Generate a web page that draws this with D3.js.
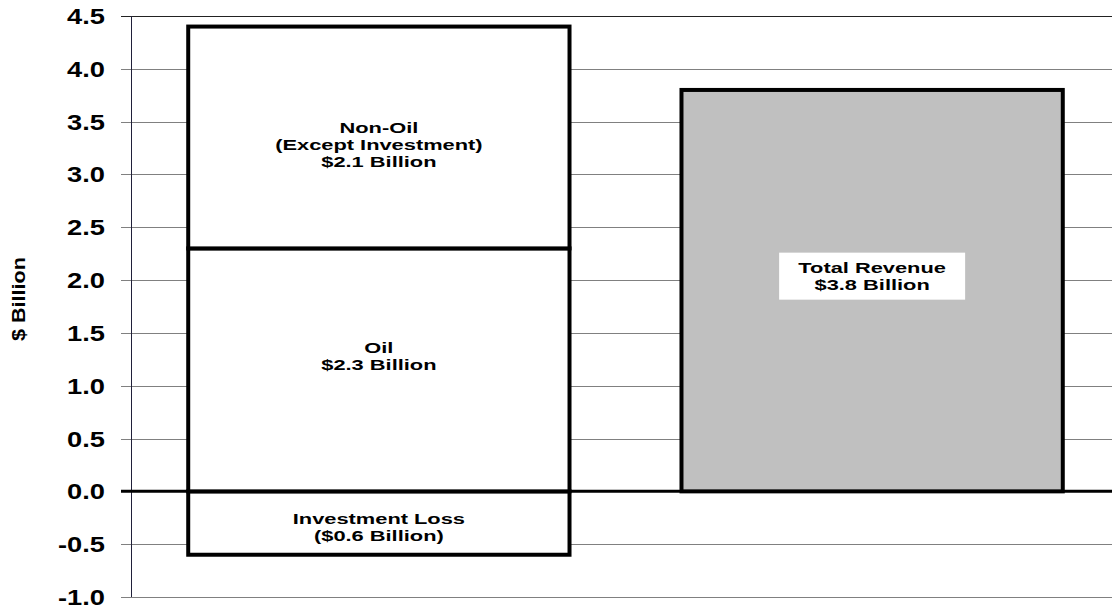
<!DOCTYPE html>
<html>
<head>
<meta charset="utf-8">
<script src="https://cdn.jsdelivr.net/npm/d3@7"></script>
<style>
  body { margin: 0; background: #fff; }
  text { font-family: "Liberation Sans", Arial, sans-serif; font-weight: bold; fill: #000; }
</style>
</head>
<body>
<div id="graphic"></div>
<script>
// categories on the x axis
var categories = ["Components", "Total"];

// stacked pieces of the first bar, $ billion
var segNames  = ["Investment Loss", "Oil", "Non-Oil"];
var segValues = [-0.6, 2.3, 2.1];
var segLabels = [
    ["Investment Loss", "($0.6 Billion)"],
    ["Oil", "$2.3 Billion"],
    ["Non-Oil", "(Except Investment)", "$2.1 Billion"]
];

// total bar
var totalValue = 3.8;
var totalLabel = ["Total Revenue", "$3.8 Billion"];

var yTicks = [-1.0, -0.5, 0.0, 0.5, 1.0, 1.5, 2.0, 2.5, 3.0, 3.5, 4.0, 4.5];

var w = 1112, h = 611;

var svg = d3.select("#graphic")
    .append("svg")
    .attr("width", w)
    .attr("height", h);

var yScale = d3.scaleLinear()
    .domain([-1, 4.5])
    .range([597, 16]);

var xScale = d3.scaleBand()
    .domain(categories)
    .range([131, 1120])
    .paddingInner(0.227)
    .paddingOuter(0.116);

// gridlines (ticks run a bit left of the axis)
svg.append("g")
   .selectAll("line")
   .data(yTicks)
   .enter()
   .append("line")
   .attr("x1", 121)
   .attr("x2", w)
   .attr("y1", function(d){ return Math.round(yScale(d)) + 0.5; })
   .attr("y2", function(d){ return Math.round(yScale(d)) + 0.5; })
   .attr("stroke", function(d){ return d == 4.5 ? "#222" : "#808080"; })
   .attr("stroke-width", 1);

// y axis line
svg.append("line")
   .attr("x1", 131.5).attr("x2", 131.5)
   .attr("y1", yScale(4.5)).attr("y2", yScale(-1))
   .attr("stroke", "#20203a")
   .attr("stroke-width", 1);

// zero line
svg.append("line")
   .attr("x1", 121).attr("x2", w)
   .attr("y1", yScale(0)).attr("y2", yScale(0))
   .attr("stroke", "#000")
   .attr("stroke-width", 3);

// tick labels, a wide bold face
svg.append("g")
   .selectAll("g")
   .data(yTicks)
   .enter()
   .append("g")
   .attr("transform", function(d){ return "translate(105," + (yScale(d) + 8) + ") scale(1.24,1)"; })
   .append("text")
   .attr("text-anchor", "end")
   .style("font-size", "22px")
   .text(function(d){ return d.toFixed(1); });

// y axis title
svg.append("g")
   .attr("transform", "translate(25,299) rotate(-90) scale(1.2,1)")
   .append("text")
   .attr("text-anchor", "middle")
   .style("font-size", "18px")
   .text("$ Billion");

// stacked segments of first bar
var segs = [];
var cum = 0;
for(let i=0; i < segValues.length; i++){
    if(segValues[i] < 0){
        segs.push({ name: segNames[i], y0: segValues[i], y1: 0, label: segLabels[i] });
    } else {
        segs.push({ name: segNames[i], y0: cum, y1: cum + segValues[i], label: segLabels[i] });
        cum += segValues[i];
    }
}

var x0 = xScale(categories[0]), bw = xScale.bandwidth();

svg.selectAll("rect.seg")
   .data(segs)
   .enter()
   .append("rect")
   .attr("class", "seg")
   .attr("x", x0)
   .attr("width", bw)
   .attr("y", function(d){ return yScale(d.y1); })
   .attr("height", function(d){ return yScale(d.y0) - yScale(d.y1); })
   .attr("fill", "#fff")
   .attr("stroke", "#000")
   .attr("stroke-width", 4);

// total bar
var x1 = xScale(categories[1]);
svg.append("rect")
   .attr("x", x1)
   .attr("width", bw)
   .attr("y", yScale(totalValue))
   .attr("height", yScale(0) - yScale(totalValue))
   .attr("fill", "#c0c0c0")
   .attr("stroke", "#000")
   .attr("stroke-width", 4);

// label text; block centre shifted a little the way the original has it
var shift = { "Investment Loss": 4, "Oil": -13, "Non-Oil": 8 };
var lineH = 17;

function drawLabel(lines, cx, cy){
    let g = svg.append("g");
    let first = cy - (lines.length - 1) * lineH / 2 + 5;
    lines.forEach(function(t, i){
        g.append("g")
         .attr("transform", "translate(" + cx + "," + (first + i * lineH) + ") scale(1.56,1)")
         .append("text")
         .attr("text-anchor", "middle")
         .style("font-size", "14px")
         .text(t);
    });
}

segs.forEach(function(d){
    let cy = (yScale(d.y0) + yScale(d.y1)) / 2 + shift[d.name];
    drawLabel(d.label, x0 + bw / 2, cy);
});

// white box behind total label
var tcx = x1 + bw / 2, tcy = (yScale(0) + yScale(totalValue)) / 2 - 14;
svg.append("rect")
   .attr("x", tcx - 93)
   .attr("y", tcy - 24)
   .attr("width", 186)
   .attr("height", 47)
   .attr("fill", "#fff");
drawLabel(totalLabel, tcx, tcy);
</script>
</body>
</html>
